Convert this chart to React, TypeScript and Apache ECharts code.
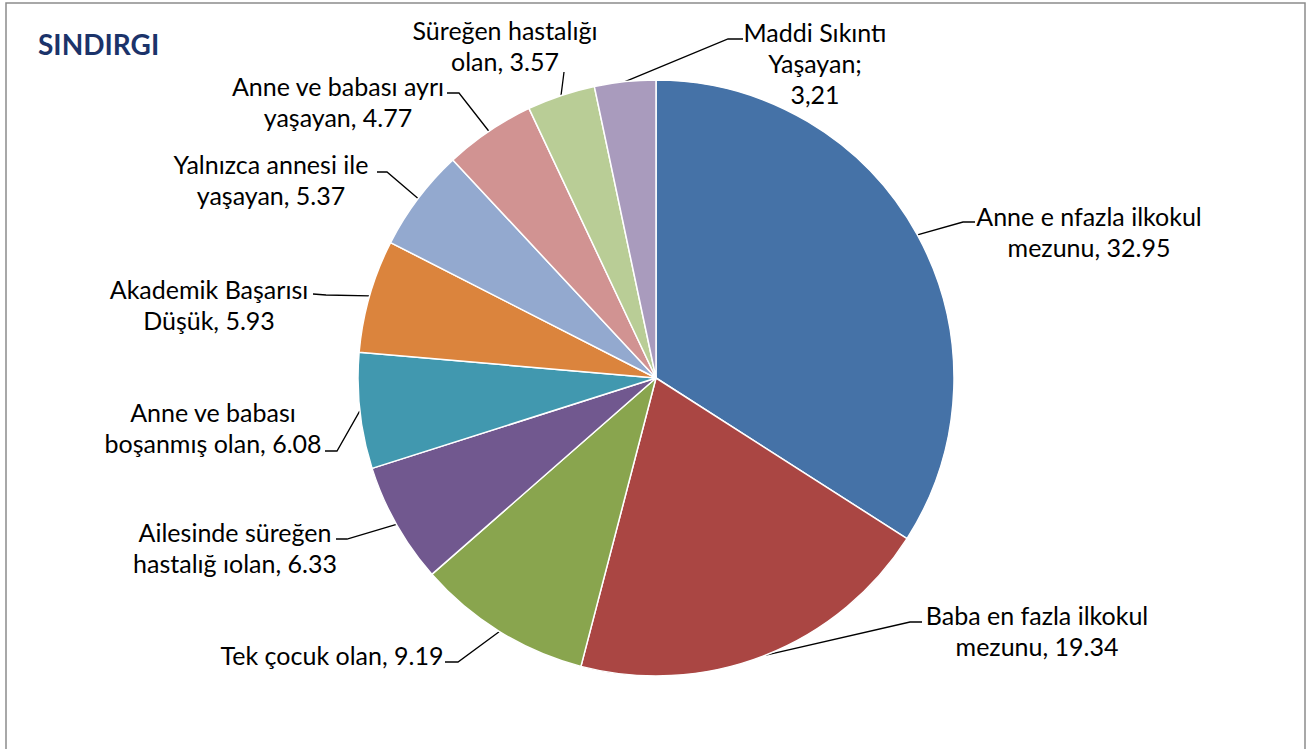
import React, { useEffect, useRef } from "react";
import * as echarts from "echarts";

// ---- data ----
const categories: string[] = [
  "Anne e nfazla ilkokul\nmezunu",
  "Baba en fazla ilkokul\nmezunu",
  "Tek çocuk olan",
  "Ailesinde süreğen\nhastalığ ıolan",
  "Anne ve babası\nboşanmış olan",
  "Akademik Başarısı\nDüşük",
  "Yalnızca annesi ile\nyaşayan",
  "Anne ve babası ayrı\nyaşayan",
  "Süreğen hastalığı\nolan",
  "Maddi Sıkıntı\nYaşayan",
];
const values: number[] = [32.95, 19.34, 9.19, 6.33, 6.08, 5.93, 5.37, 4.77, 3.57, 3.21];
const valueSeparators: string[] = [", ", ", ", ", ", ", ", ", ", ", ", ", ", ", ", ", ", ";\n"];
const decimalMarks: string[] = [".", ".", ".", ".", ".", ".", ".", ".", ".", ","];
const titleText = "SINDIRGI";

// ---- styles / layout ----
const colors = [
  "#4572A7", "#AA4643", "#89A54E", "#71588F", "#4198AF",
  "#DB843D", "#93A9CF", "#D19392", "#B9CD96", "#A99BBD",
];
// label block centre (x, y), leader bend (bx, by) and leader end at text (ax, ay)
const labelLayouts = [
  { x: 1089, y: 231, bx: 963, by: 222, ax: 975, ay: 222 },
  { x: 1037, y: 630, bx: 910, by: 622, ax: 922, ay: 622 },
  { x: 332, y: 655, bx: 458, by: 662, ax: 445, ay: 662 },
  { x: 235, y: 547, bx: 347, by: 539, ax: 336, ay: 539 },
  { x: 213, y: 427, bx: 337, by: 451, ax: 325, ay: 451 },
  { x: 209, y: 304, bx: 326, by: 295, ax: 313, ay: 294 },
  { x: 271, y: 179, bx: 387, by: 172, ax: 377, ay: 172 },
  { x: 338, y: 101, bx: 459, by: 93, ax: 447, ay: 93 },
  { x: 505, y: 45, bx: 563, by: 80, ax: 564, ay: 72 },
  { x: 815, y: 63, bx: 728, by: 39, ax: 743, ay: 39 },
];

const FONT = "Lato, 'Open Sans', sans-serif";

export default function App() {
  const ref = useRef<HTMLDivElement>(null);
  useEffect(() => {
    if (!ref.current) return;
    const chart = echarts.init(ref.current, null, { renderer: "svg" });
    const data = categories.map((name, i) => ({
      name,
      value: values[i],
      itemStyle: { color: colors[i] },
    }));
    chart.setOption({
      animation: false,
      backgroundColor: "#ffffff",
      graphic: [
        {
          type: "rect",
          shape: { x: 6, y: 3, width: 1299, height: 800 },
          style: { fill: "none", stroke: "#8c8c8c", lineWidth: 1.5 },
          silent: true,
          z: -1,
        },
        {
          type: "text",
          x: 38,
          y: 44,
          style: {
            text: titleText,
            fill: "#1B336A",
            font: `bold 28px ${FONT}`,
            verticalAlign: "middle",
            align: "left",
          },
        },
      ],
      series: [
        {
          type: "pie",
          center: [656, 378],
          radius: [0, 298],
          startAngle: 90,
          clockwise: true,
          avoidLabelOverlap: false,
          data,
          itemStyle: { borderColor: "#ffffff", borderWidth: 1.5 },
          emphasis: { disabled: true },
          label: {
            show: true,
            position: "outside",
            color: "#000000",
            fontFamily: FONT,
            fontSize: 25,
            lineHeight: 31,
            align: "center",
            formatter: (p: any) => {
              const i = p.dataIndex;
              return (
                categories[i] +
                valueSeparators[i] +
                values[i].toFixed(2).replace(".", decimalMarks[i])
              );
            },
          },
          labelLine: {
            show: true,
            length: 20,
            length2: 12,
            lineStyle: { color: "#000000", width: 1.3 },
          },
          labelLayout: (params: any) => {
            const i = params.dataIndex;
            const L = labelLayouts[i];
            const pts = params.labelLinePoints;
            const edge = pts && pts[0] ? pts[0] : [L.bx, L.by];
            return {
              x: L.x,
              y: L.y,
              align: "center",
              verticalAlign: "middle",
              labelLinePoints: [edge, [L.bx, L.by], [L.ax, L.ay]],
            };
          },
        },
      ],
    });
    return () => chart.dispose();
  }, []);
  return (
    <div
      ref={ref}
      style={{ position: "fixed", left: 0, top: 0, width: "100vw", height: "100vh" }}
    />
  );
}
